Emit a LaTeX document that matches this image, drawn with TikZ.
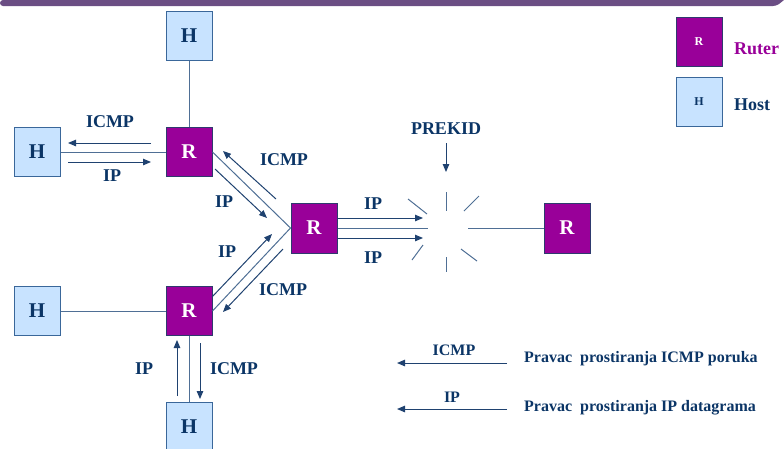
\documentclass[tikz,border=0pt]{standalone}
\usepackage{fontspec}
\setmainfont{Liberation Serif}
\usetikzlibrary{arrows.meta}
\definecolor{navy}{HTML}{0B3566}
\definecolor{arrowc}{HTML}{1F4270}
\definecolor{linec}{HTML}{4F6F95}
\definecolor{rfill}{HTML}{990099}
\definecolor{rborder}{HTML}{2E3A6E}
\definecolor{hfill}{HTML}{C8E3FF}
\definecolor{hborder}{HTML}{3A679A}
\definecolor{barc}{HTML}{6B4E84}
\tikzset{
  ruter/.style={draw=rborder, line width=1pt, fill=rfill, minimum width=46pt, minimum height=49pt,
    inner sep=0pt, text=white, font=\bfseries\fontsize{21}{21}\selectfont},
  hostbox/.style={draw=hborder, line width=1pt, fill=hfill, minimum width=46pt, minimum height=49pt,
    inner sep=0pt, text=navy, font=\bfseries\fontsize{21}{21}\selectfont},
  smallbox/.style={font=\bfseries\fontsize{12}{12}\selectfont},
  lbl/.style={text=navy, font=\bfseries\fontsize{18}{18}\selectfont, inner sep=0pt},
  leglbl/.style={text=navy, font=\bfseries\fontsize{16}{16}\selectfont, inner sep=0pt},
  link/.style={draw=linec, line width=1pt},
  flow/.style={draw=arrowc, line width=1pt, -{Triangle[length=8pt,width=6.5pt]}},
  spark/.style={draw=linec, line width=1pt},
}
\begin{document}
\begin{tikzpicture}[x=1pt,y=-1pt]
\useasboundingbox (0,0) rectangle (784,448);
% title band
\fill[barc] (0,0) -- (784,0) -- (779,4) [rounded corners=3pt] -- (776,6) -- (0,6) -- cycle;

% routers and hosts
\node[hostbox] (htop) at (189,36) {H};
\node[hostbox] (hleft) at (37,152) {H};
\node[ruter] (r1) at (189,152) {R};
\node[ruter, minimum height=50pt] (rc) at (314,228) {R};
\node[ruter] (r2) at (189,311) {R};
\node[hostbox] (hbl) at (37,311) {H};
\node[hostbox] (hbot) at (189,427) {H};
\node[ruter, minimum height=50pt] (rr) at (567,228) {R};

% links
\draw[link] (htop.south) -- (r1.north);
\draw[link] (hleft.east) -- (r1.west);
\draw[link] (r1.east) -- (rc.west);
\draw[link] (r2.east) -- (rc.west);
\draw[link] (hbl.east) -- (r2.west);
\draw[link] (r2.south) -- (hbot.north);
\coordinate (gapl) at (428,228);
\coordinate (gapr) at (468,228);
\draw[link] (rc.east) -- (gapl);
\draw[link] (gapr) -- (rr.west);

% break marks
\coordinate (s1a) at (446,192); \coordinate (s1b) at (446,211);
\coordinate (s2a) at (464,211); \coordinate (s2b) at (479,196);
\coordinate (s3a) at (408,199); \coordinate (s3b) at (427,214);
\coordinate (s4a) at (412,260); \coordinate (s4b) at (423,245);
\coordinate (s5a) at (446,257); \coordinate (s5b) at (446,272);
\coordinate (s6a) at (461,249); \coordinate (s6b) at (477,261);
\draw[spark] (s1a) -- (s1b);
\draw[spark] (s2a) -- (s2b);
\draw[spark] (s3a) -- (s3b);
\draw[spark] (s4a) -- (s4b);
\draw[spark] (s5a) -- (s5b);
\draw[spark] (s6a) -- (s6b);

% message flows
\coordinate (a1s) at (151,143); \coordinate (a1e) at (68,143);
\coordinate (a2s) at (68,162);  \coordinate (a2e) at (151,162);
\coordinate (a3s) at (276,199); \coordinate (a3e) at (223,151);
\coordinate (a4s) at (215,169); \coordinate (a4e) at (267,218);
\coordinate (a5s) at (212,297); \coordinate (a5e) at (272,234);
\coordinate (a6s) at (283,249); \coordinate (a6e) at (223,312);
\coordinate (a7s) at (177,396); \coordinate (a7e) at (177,340);
\coordinate (a8s) at (200,343); \coordinate (a8e) at (200,399);
\coordinate (a9s) at (338,218); \coordinate (a9e) at (423,218);
\coordinate (a10s) at (338,238); \coordinate (a10e) at (423,238);
\coordinate (pks) at (446,143); \coordinate (pke) at (446,172);
\draw[flow] (a1s) -- (a1e);
\draw[flow] (a2s) -- (a2e);
\draw[flow] (a3s) -- (a3e);
\draw[flow] (a4s) -- (a4e);
\draw[flow] (a5s) -- (a5e);
\draw[flow] (a6s) -- (a6e);
\draw[flow] (a7s) -- (a7e);
\draw[flow] (a8s) -- (a8e);
\draw[flow] (a9s) -- (a9e);
\draw[flow] (a10s) -- (a10e);
\draw[flow] (pks) -- (pke);

% flow labels
\node[lbl] (l1) at (110,122) {ICMP};
\node[lbl] (l2) at (112,176) {IP};
\node[lbl] (l3) at (284,160) {ICMP};
\node[lbl] (l4) at (224,202) {IP};
\node[lbl] (l5) at (227,252) {IP};
\node[lbl] (l6) at (283,290) {ICMP};
\node[lbl] (l7) at (144,369) {IP};
\node[lbl] (l8) at (234,369) {ICMP};
\node[lbl] (l9) at (373,204) {IP};
\node[lbl] (l10) at (373,258) {IP};
\node[lbl] (lpk) at (446,129) {PREKID};

% legend: directions
\coordinate (g1s) at (507,363); \coordinate (g1e) at (397,363);
\coordinate (g2s) at (507,409); \coordinate (g2e) at (397,409);
\draw[flow] (g1s) -- (g1e);
\draw[flow] (g2s) -- (g2e);
\node[leglbl] (gl1) at (454,350) {ICMP};
\node[leglbl] (gl2) at (452,397) {IP};
\node[leglbl, anchor=west] (gt1) at (524,359) {Pravac\ \ prostiranja ICMP poruka};
\node[leglbl, anchor=west] (gt2) at (524,408) {Pravac\ \ prostiranja IP datagrama};

% legend: node kinds
\node[ruter, smallbox] (kr) at (699,42) {R};
\node[hostbox, smallbox] (kh) at (699,102) {H};
\node[lbl, text=rfill, anchor=west] (ktr) at (734,49) {Ruter};
\node[lbl, anchor=west] (kth) at (734,105) {Host};
\end{tikzpicture}
\end{document}
